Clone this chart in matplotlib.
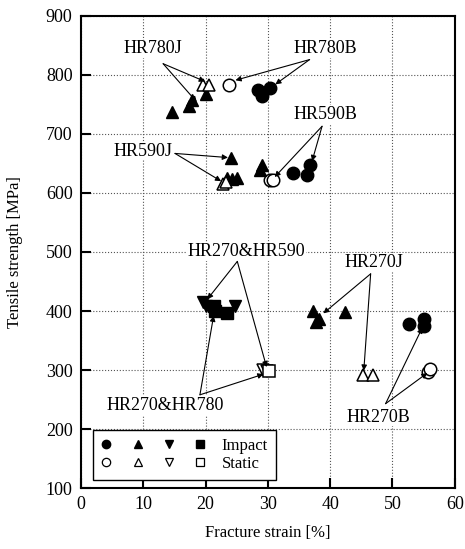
import matplotlib
matplotlib.use("Agg")
import matplotlib.pyplot as plt
from matplotlib.lines import Line2D
from matplotlib.legend_handler import HandlerTuple

plt.rcParams['font.family'] = ['Liberation Serif', 'DejaVu Serif']

# impact (filled) and static (open) data, strain [%] / strength [MPa]
# circles: HR780B, HR590B, HR270B
circ_imp_x = [28.5, 29.0, 30.4, 34.1, 36.3, 36.7, 52.6, 55.0, 55.0]
circ_imp_y = [775, 765, 778, 634, 631, 648, 378, 386, 375]
circ_sta_x = [23.8, 30.4, 30.8, 55.7, 56.1]
circ_sta_y = [783, 622, 622, 296, 302]
# triangles: HR780J, HR590J, HR270J
tri_imp_x = [14.6, 17.3, 17.8, 20.1, 24.1, 23.4, 24.2, 25.0, 28.7, 29.0, 37.2, 38.2, 37.8, 42.4]
tri_imp_y = [738, 747, 758, 767, 660, 626, 623, 626, 639, 648, 400, 386, 381, 398]
tri_sta_x = [19.6, 20.5, 22.8, 23.3, 45.3, 46.9]
tri_sta_y = [783, 783, 615, 619, 292, 292]
# inverted triangles: HR270&HR590
inv_imp_x = [19.6, 20.1, 24.8]
inv_imp_y = [416, 409, 408]
inv_sta_x = [29.3, 29.8]
inv_sta_y = [300, 299]
# squares: HR270&HR780
sq_imp_x = [21.3, 21.5, 23.4]
sq_imp_y = [409, 400, 397]
sq_sta_x = [30.2]
sq_sta_y = [299]

fig = plt.figure(figsize=(4.65, 5.49), dpi=100)
ax = fig.add_axes([0.174, 0.111, 0.804, 0.860])

ms = 9
ax.plot(circ_imp_x, circ_imp_y, 'o', color='black', ms=ms, zorder=3)
ax.plot(circ_sta_x, circ_sta_y, 'o', mfc='white', mec='black', ms=ms, mew=1.1, zorder=3)
ax.plot(tri_imp_x, tri_imp_y, '^', color='black', ms=ms, zorder=3)
ax.plot(tri_sta_x, tri_sta_y, '^', mfc='white', mec='black', ms=ms, mew=1.1, zorder=3)
ax.plot(inv_imp_x, inv_imp_y, 'v', color='black', ms=ms, zorder=3)
ax.plot(inv_sta_x, inv_sta_y, 'v', mfc='white', mec='black', ms=ms, mew=1.1, zorder=3)
ax.plot(sq_imp_x, sq_imp_y, 's', color='black', ms=ms - 1, zorder=3)
ax.plot(sq_sta_x, sq_sta_y, 's', mfc='white', mec='black', ms=ms - 1, mew=1.1, zorder=3)

ax.set_xlim(0, 60)
ax.set_ylim(100, 900)
ax.set_xticks(range(0, 61, 10))
ax.set_yticks(range(100, 901, 100))
ax.grid(True, linestyle=':', color='#555555', linewidth=0.8)
ax.set_axisbelow(True)
ax.tick_params(direction='in', length=7, width=1.5, labelsize=13, pad=6)
for s in ax.spines.values():
    s.set_linewidth(1.5)

ax.set_xlabel('Fracture strain [%]', fontsize=12, labelpad=8)
ax.set_ylabel('Tensile strength [MPa]', fontsize=12, labelpad=16)

arrow = dict(arrowstyle='-|>', color='black', lw=0.8, mutation_scale=8, shrinkA=0, shrinkB=0)
box = dict(facecolor='white', edgecolor='none', pad=0.5)

def label(text, tx, ty, start, targets):
    ax.text(tx, ty, text, fontsize=13, ha='center', va='center', bbox=box, zorder=4)
    for t in targets:
        ax.annotate('', xy=t, xytext=start, arrowprops=arrow, zorder=4)

label('HR780J', 11.6, 844, (13.2, 819), [(18.6, 754), (19.9, 789)])
label('HR780B', 39.2, 845, (36.7, 826), [(31.2, 784), (24.8, 791)])
label('HR590J', 10.0, 671, (15.1, 667), [(23.6, 660), (22.5, 620)])
label('HR590B', 39.2, 733, (38.7, 713), [(37.1, 654), (31.1, 627)])
label('HR270&HR590', 26.5, 500, (25.1, 484), [(20.3, 420), (29.8, 305)])
label('HR270J', 47.0, 482, (46.5, 463), [(38.9, 396), (45.4, 299)])
label('HR270&HR780', 13.5, 240, (19.1, 258), [(21.3, 392), (29.3, 293)])
label('HR270B', 47.8, 220, (48.9, 243), [(54.8, 372), (55.6, 295)])

lms = 6
filled = tuple(Line2D([], [], ls='', marker=m, color='black', ms=lms) for m in ['o', '^', 'v', 's'])
opened = tuple(Line2D([], [], ls='', marker=m, mfc='white', mec='black', ms=lms, mew=0.9)
               for m in ['o', '^', 'v', 's'])
leg = ax.legend([filled, opened], ['Impact', 'Static'],
                handler_map={tuple: HandlerTuple(ndivide=None, pad=1.3)},
                loc='lower left', bbox_to_anchor=(0.024, 0.01), handlelength=6.2,
                fontsize=12, fancybox=False, edgecolor='black', framealpha=1,
                borderpad=0.5, labelspacing=0.1, handletextpad=1.0, borderaxespad=0.2)
leg.get_frame().set_linewidth(1.0)
leg.set_zorder(5)

fig.savefig('out.png', dpi=100)
